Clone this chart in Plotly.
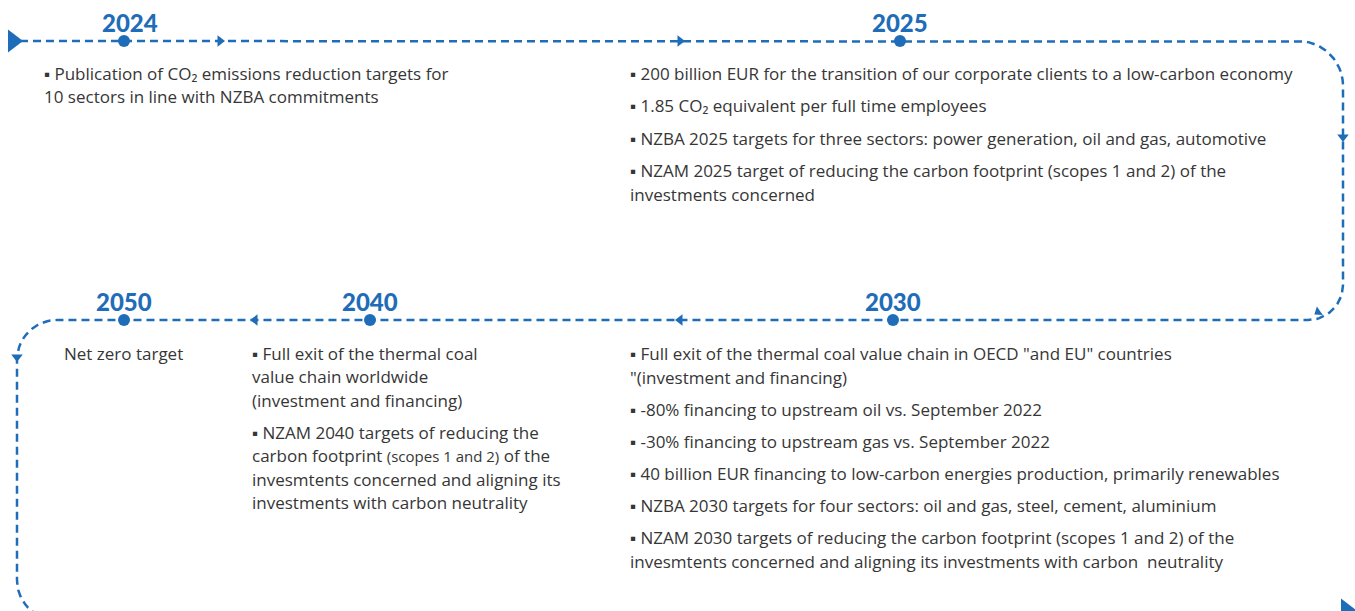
import numpy as np
import plotly.graph_objects as go

# ---- data ----
years = ["2024", "2025", "2030", "2040", "2050"]
milestone_x = [124, 900, 893, 370, 124]
milestone_y = [41, 41, 320, 320, 320]

items_2024 = [["Publication of CO\u2082 emissions reduction targets for", "10 sectors in line with NZBA commitments"]]
items_2025 = [
    ["200 billion EUR for the transition of our corporate clients to a low-carbon economy"],
    ["1.85 CO\u2082 equivalent per full time employees"],
    ["NZBA 2025 targets for three sectors: power generation, oil and gas, automotive"],
    ["NZAM 2025 target of reducing the carbon footprint (scopes 1 and 2) of the", "investments concerned"],
]
items_2030 = [
    ["Full exit of the thermal coal value chain in OECD \"and EU\" countries", "\"(investment and financing)"],
    ["-80% financing to upstream oil vs. September 2022"],
    ["-30% financing to upstream gas vs. September 2022"],
    ["40 billion EUR financing to low-carbon energies production, primarily renewables"],
    ["NZBA 2030 targets for four sectors: oil and gas, steel, cement, aluminium"],
    ["NZAM 2030 targets of reducing the carbon footprint (scopes 1 and 2) of the", "invesmtents concerned and aligning its investments with carbon  neutrality"],
]
items_2040 = [
    ["Full exit of the thermal coal", "value chain worldwide", "(investment and financing)"],
    ["NZAM 2040 targets of reducing the", "carbon footprint <span style='font-size:15px'>(scopes 1 and 2)</span> of the",
     "invesmtents concerned and aligning its", "investments with carbon neutrality"],
]
items_2050 = [["Net zero target"]]

BLUE = "#1f6db8"
GREY = "#363636"
TXT_FONT = "Open Sans, sans-serif"
TXT_SIZE = 17

fig = go.Figure()

# ---- dashed timeline path ----
def arc(cx, cy, r, a0, a1, n=20):
    t = np.radians(np.linspace(a0, a1, n))
    return list(cx + r * np.cos(t)), list(cy + r * np.sin(t))

px, py = [20], [41]
for seg in [arc(1298, 86, 45, -90, 0), arc(1308, 285, 35, 0, 90),
            arc(57, 360, 40, 270, 180), arc(57, 580, 40, 180, 90)]:
    px += seg[0]; py += seg[1]
px += [1340]; py += [620]
fig.add_trace(go.Scatter(x=px, y=py, mode="lines",
                         line=dict(color=BLUE, width=2.5, dash="8px,5px"),
                         hoverinfo="skip", showlegend=False))

# ---- arrowheads ----
arrows = [
    (13, 41, "triangle-right", 20, 0),
    (220, 41, "triangle-right", 10, 0),
    (680, 41, "triangle-right", 10, 0),
    (1343, 137, "triangle-down", 10, 0),
    (1318, 312, "triangle-left", 9, -35),
    (680, 320, "triangle-left", 10, 0),
    (255, 320, "triangle-left", 10, 0),
    (17, 357, "triangle-down", 10, 0),
    (1346, 610, "triangle-right", 20, 0),
]
for ax_, ay_, sym, sz, ang in arrows:
    fig.add_trace(go.Scatter(x=[ax_], y=[ay_], mode="markers",
                             marker=dict(symbol=sym, size=sz, color=BLUE, angle=ang, line=dict(width=0)),
                             hoverinfo="skip", showlegend=False))

# ---- milestone dots ----
fig.add_trace(go.Scatter(x=milestone_x, y=milestone_y, mode="markers",
                         marker=dict(size=12, color=BLUE), hoverinfo="skip", showlegend=False))

# ---- year labels ----
for yr, mx, my in zip(years, milestone_x, milestone_y):
    fig.add_annotation(x=mx + 6 if yr == "2024" else mx, y=my - 19, text=yr, showarrow=False,
                       xanchor="center", yanchor="middle",
                       font=dict(family="Lato, Inter, sans-serif", size=24, color=BLUE, weight=900))

# ---- text blocks ----
def add_block(items, x0, y0, line_step, item_gap, bullet=True):
    y = y0
    for item in items:
        for i, line in enumerate(item):
            txt = ("\u25aa " + line) if (bullet and i == 0) else line
            fig.add_annotation(x=x0, y=y, text=txt, showarrow=False, xanchor="left", yanchor="middle",
                               font=dict(family=TXT_FONT, size=TXT_SIZE, color=GREY))
            y += line_step
        y += item_gap - line_step

add_block(items_2024, 42, 73, 23, 32)
add_block(items_2025, 628, 73, 24, 32.5)
add_block(items_2030, 628, 353, 24, 32)
add_block(items_2040, 250, 353, 23.5, 32)
add_block(items_2050, 62, 353, 24, 32, bullet=False)

fig.update_layout(
    width=1355, height=611, margin=dict(l=0, r=0, t=0, b=0),
    paper_bgcolor="white", plot_bgcolor="white",
    xaxis=dict(range=[0, 1355], visible=False, fixedrange=True),
    yaxis=dict(range=[611, 0], visible=False, fixedrange=True),
)
fig.write_html("out.html", config={"displayModeBar": False},
               post_script="document.body.style.margin='0';document.body.style.overflow='hidden';")
